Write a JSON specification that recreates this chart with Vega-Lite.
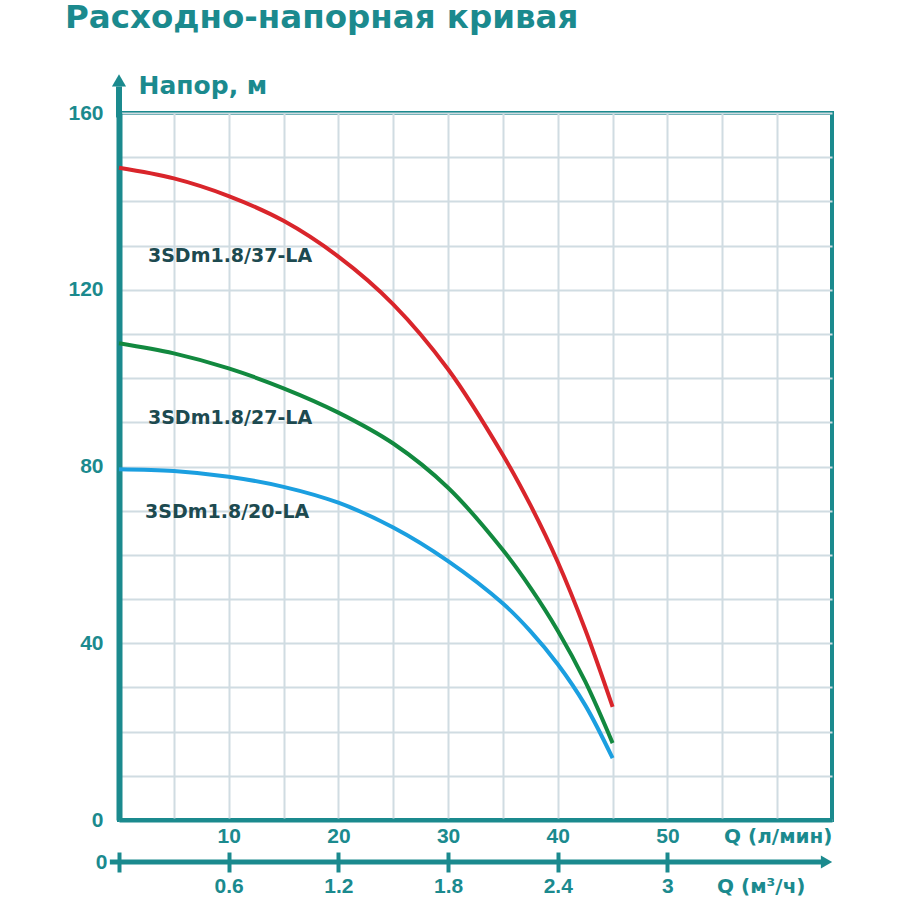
{
  "$schema": "https://vega.github.io/schema/vega-lite/v6.json",
  "width": 713,
  "height": 707,
  "autosize": {"type": "none"},
  "padding": {"left": 119, "top": 113, "right": 68, "bottom": 80},
  "background": "white",
  "title": {
    "text": "Расходно-напорная кривая",
    "anchor": "start",
    "frame": "group",
    "font": "DejaVu Sans",
    "fontSize": 32.5,
    "fontWeight": "bold",
    "color": "#1b8a8e",
    "dx": -54,
    "offset": 13,
    "baseline": "alphabetic"
  },
  "config": {
    "view": {"stroke": "#1b8a8e", "strokeWidth": 4},
    "axis": {
      "labelFont": "Liberation Sans",
      "labelFontWeight": "bold",
      "labelFontSize": 21,
      "labelColor": "#1b8a8e",
      "titleFont": "DejaVu Sans",
      "titleFontWeight": "bold",
      "titleColor": "#1b8a8e",
      "domainColor": "#1b8a8e",
      "tickColor": "#1b8a8e",
      "gridColor": "#d0dce2",
      "gridWidth": 2,
      "gridOpacity": 1
    }
  },
  "datasets": {
    "curves": [
      {"model": "3SDm1.8/37-LA", "q": 0, "h": 147.6},
      {"model": "3SDm1.8/37-LA", "q": 5, "h": 145.2},
      {"model": "3SDm1.8/37-LA", "q": 10, "h": 141.2},
      {"model": "3SDm1.8/37-LA", "q": 15, "h": 135.6},
      {"model": "3SDm1.8/37-LA", "q": 20, "h": 127.5},
      {"model": "3SDm1.8/37-LA", "q": 25, "h": 116.7},
      {"model": "3SDm1.8/37-LA", "q": 30, "h": 102.0},
      {"model": "3SDm1.8/37-LA", "q": 35, "h": 82.6},
      {"model": "3SDm1.8/37-LA", "q": 37.5, "h": 71.3},
      {"model": "3SDm1.8/37-LA", "q": 40, "h": 58.4},
      {"model": "3SDm1.8/37-LA", "q": 42.5, "h": 43.1},
      {"model": "3SDm1.8/37-LA", "q": 45, "h": 25.6},
      {"model": "3SDm1.8/27-LA", "q": 0, "h": 107.9},
      {"model": "3SDm1.8/27-LA", "q": 5, "h": 105.6},
      {"model": "3SDm1.8/27-LA", "q": 10, "h": 102.2},
      {"model": "3SDm1.8/27-LA", "q": 15, "h": 97.7},
      {"model": "3SDm1.8/27-LA", "q": 20, "h": 92.2},
      {"model": "3SDm1.8/27-LA", "q": 25, "h": 85.2},
      {"model": "3SDm1.8/27-LA", "q": 30, "h": 75.2},
      {"model": "3SDm1.8/27-LA", "q": 35, "h": 61.1},
      {"model": "3SDm1.8/27-LA", "q": 37.5, "h": 52.6},
      {"model": "3SDm1.8/27-LA", "q": 40, "h": 42.85},
      {"model": "3SDm1.8/27-LA", "q": 42.5, "h": 31.35},
      {"model": "3SDm1.8/27-LA", "q": 45, "h": 17.4},
      {"model": "3SDm1.8/20-LA", "q": 0, "h": 79.4},
      {"model": "3SDm1.8/20-LA", "q": 5, "h": 79.0},
      {"model": "3SDm1.8/20-LA", "q": 10, "h": 77.7},
      {"model": "3SDm1.8/20-LA", "q": 15, "h": 75.4},
      {"model": "3SDm1.8/20-LA", "q": 20, "h": 71.8},
      {"model": "3SDm1.8/20-LA", "q": 25, "h": 66.2},
      {"model": "3SDm1.8/20-LA", "q": 30, "h": 58.6},
      {"model": "3SDm1.8/20-LA", "q": 35, "h": 49.0},
      {"model": "3SDm1.8/20-LA", "q": 37.5, "h": 42.75},
      {"model": "3SDm1.8/20-LA", "q": 40, "h": 35.25},
      {"model": "3SDm1.8/20-LA", "q": 42.5, "h": 26.0},
      {"model": "3SDm1.8/20-LA", "q": 45, "h": 14.0}
    ],
    "labels": [
      {"model": "3SDm1.8/37-LA", "q": 2.64, "h": 127.6},
      {"model": "3SDm1.8/27-LA", "q": 2.64, "h": 91.0},
      {"model": "3SDm1.8/20-LA", "q": 2.37, "h": 69.8}
    ],
    "yArrow": [{"q": 0, "h0": 159, "h1": 166, "tip": 167.4}],
    "xArrow": [{"m0": -0.05, "m1": 3.84, "tip": 3.87, "h": -9.5}]
  },
  "layer": [
    {
      "layer": [
        {
          "data": {"name": "curves"},
          "mark": {"type": "line", "interpolate": "catmull-rom", "strokeWidth": 4, "strokeCap": "butt"},
          "encoding": {
            "x": {
              "field": "q", "type": "quantitative",
              "scale": {"domain": [0, 65], "nice": false},
              "axis": {
                "values": [5, 10, 15, 20, 25, 30, 35, 40, 45, 50, 55, 60],
                "labelExpr": "datum.value % 10 == 0 && datum.value <= 50 ? datum.value : ''",
                "ticks": false,
                "labelPadding": 5,
                "domainWidth": 4,
                "title": "Q (л/мин)",
                "titleFontSize": 20,
                "titleX": 713,
                "titleY": 6,
                "titleAlign": "right",
                "titleBaseline": "top",
                "titleAnchor": null
              }
            },
            "y": {
              "field": "h", "type": "quantitative",
              "scale": {"domain": [0, 160], "nice": false},
              "axis": {
                "values": [0, 10, 20, 30, 40, 50, 60, 70, 80, 90, 100, 110, 120, 130, 140, 150, 160],
                "labelExpr": "datum.value % 40 == 0 ? datum.value : ''",
                "ticks": false,
                "labelPadding": 16,
                "domainWidth": 6,
                "title": "Напор, м",
                "titleFontSize": 25,
                "titleAngle": 0,
                "titleX": 19,
                "titleY": -28,
                "titleAlign": "left",
                "titleBaseline": "middle"
              }
            },
            "color": {
              "field": "model", "type": "nominal",
              "scale": {"domain": ["3SDm1.8/37-LA", "3SDm1.8/27-LA", "3SDm1.8/20-LA"], "range": ["#d9252b", "#12893f", "#1b9fe0"]},
              "legend": null
            },
            "detail": {"field": "model"}
          }
        },
        {
          "data": {"name": "labels"},
          "mark": {"type": "text", "align": "left", "baseline": "middle", "font": "DejaVu Sans", "fontWeight": "bold", "fontSize": 19, "color": "#1d4a50"},
          "encoding": {
            "x": {"field": "q", "type": "quantitative"},
            "y": {"field": "h", "type": "quantitative"},
            "text": {"field": "model"}
          }
        },
        {
          "data": {"name": "yArrow"},
          "mark": {"type": "rule", "color": "#1b8a8e", "strokeWidth": 6},
          "encoding": {
            "x": {"field": "q", "type": "quantitative"},
            "y": {"field": "h0", "type": "quantitative"},
            "y2": {"field": "h1"}
          }
        },
        {
          "data": {"name": "yArrow"},
          "mark": {"type": "point", "shape": "triangle-up", "filled": true, "color": "#1b8a8e", "size": 200, "opacity": 1},
          "encoding": {
            "x": {"field": "q", "type": "quantitative"},
            "y": {"field": "tip", "type": "quantitative"}
          }
        }
      ]
    },
    {
      "layer": [
        {
          "data": {"name": "xArrow"},
          "mark": {"type": "rule", "color": "#1b8a8e", "strokeWidth": 5},
          "encoding": {
            "x": {
              "field": "m0", "type": "quantitative",
              "scale": {"domain": [0, 3.9], "nice": false},
              "axis": {
                "orient": "bottom",
                "offset": 32,
                "values": [0, 0.6, 1.2, 1.8, 2.4, 3],
                "format": "~g",
                "domain": false,
                "tickSize": 20,
                "tickWidth": 4,
                "labelPadding": {"expr": "datum.value == 0 ? -10 : 3"},
                "labelBaseline": {"expr": "datum.value == 0 ? 'middle' : 'top'"},
                "labelAlign": {"expr": "datum.value == 0 ? 'right' : 'center'"},
                "labelOffset": {"expr": "datum.value == 0 ? -12 : 0"},
                "title": "Q (м³/ч)",
                "titleFontSize": 20,
                "titleX": 686,
                "titleY": 24,
                "titleAlign": "right",
                "titleBaseline": "top"
              }
            },
            "x2": {"field": "m1"},
            "y": {"field": "h", "type": "quantitative"}
          }
        },
        {
          "data": {"name": "xArrow"},
          "mark": {"type": "point", "shape": "triangle-right", "filled": true, "color": "#1b8a8e", "size": 170, "opacity": 1},
          "encoding": {
            "x": {"field": "tip", "type": "quantitative"},
            "y": {"field": "h", "type": "quantitative"}
          }
        }
      ]
    }
  ],
  "resolve": {"scale": {"x": "independent"}, "axis": {"x": "independent"}}
}
